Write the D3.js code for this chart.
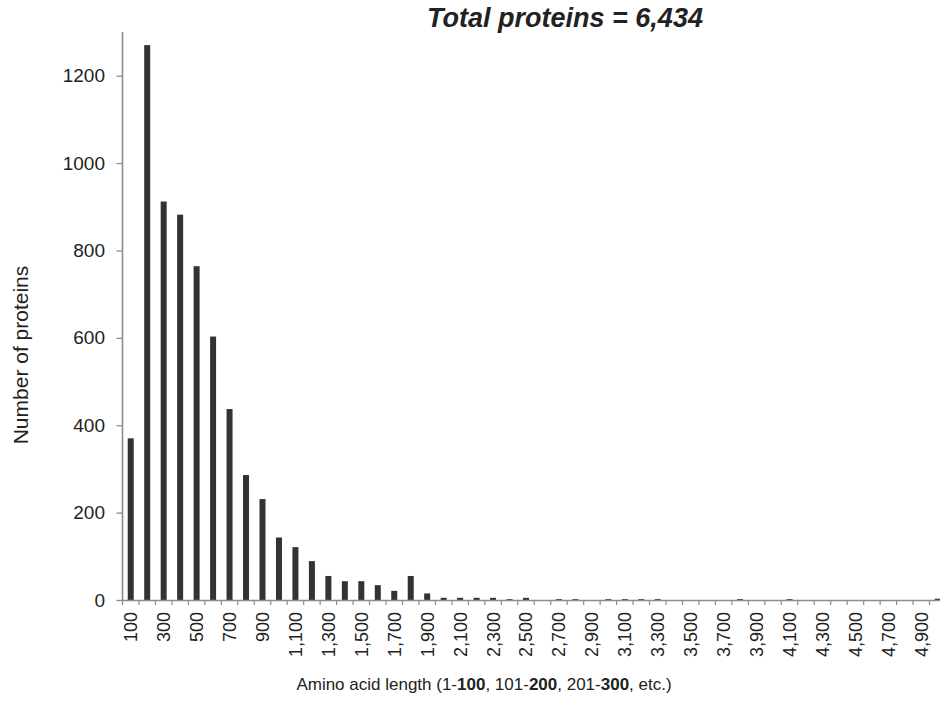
<!DOCTYPE html>
<html>
<head>
<meta charset="utf-8">
<script src="https://cdn.jsdelivr.net/npm/d3@7"></script>
<style>
  html, body { margin: 0; padding: 0; background: #fff; overflow: hidden; }
  svg { display: block; font-family: "Liberation Sans", Arial, sans-serif; }
</style>
</head>
<body>
<svg id="chart" width="940" height="719"></svg>
<script>
// Length bins: upper bound of each 100-residue bin
const bins = [100, 200, 300, 400, 500, 600, 700, 800, 900, 1000,
  1100, 1200, 1300, 1400, 1500, 1600, 1700, 1800, 1900, 2000,
  2100, 2200, 2300, 2400, 2500, 2600, 2700, 2800, 2900, 3000,
  3100, 3200, 3300, 3400, 3500, 3600, 3700, 3800, 3900, 4000,
  4100, 4200, 4300, 4400, 4500, 4600, 4700, 4800, 4900, 5000];

// Protein counts per bin
const counts = [370, 1270, 912, 882, 764, 603, 437, 286, 231, 143,
  121, 89, 55, 43, 43, 34, 21, 55, 15, 5,
  5, 5, 5, 2, 5, 0, 2, 2, 0, 2,
  2, 2, 2, 0, 0, 0, 0, 2, 0, 0,
  2, 0, 0, 0, 0, 0, 0, 0, 0, 3];

const yTicks = [0, 200, 400, 600, 800, 1000, 1200];
const totalLabel = "Total proteins = 6,434";

const svg = d3.select("#chart");
const plotLeft = 122.5, plotRight = 946, plotTop = 32, plotBottom = 600;

const x = d3.scaleBand().domain(bins).range([plotLeft, plotRight]).paddingInner(0).paddingOuter(0);
const y = d3.scaleLinear().domain([0, 1300]).range([plotBottom, plotTop]);

const axisColor = "#8c8c8c";
const textColor = "#222";
const barW = 6;

// Bars
svg.append("g").selectAll("rect")
  .data(bins.map((b, i) => ({ b, v: counts[i] })))
  .join("rect")
  .attr("x", d => x(d.b) + x.bandwidth() / 2 - barW / 2)
  .attr("y", d => y(d.v))
  .attr("width", barW)
  .attr("height", d => plotBottom - y(d.v))
  .attr("fill", "#333333");

// Y axis
const yAxis = svg.append("g")
  .attr("transform", `translate(${plotLeft},0)`)
  .call(d3.axisLeft(y).tickValues(yTicks).tickSize(6).tickSizeOuter(0).tickPadding(11.5).tickFormat(d3.format("d")));
yAxis.select(".domain").remove();
yAxis.selectAll(".tick line").attr("stroke", axisColor).attr("stroke-width", 1.3);
yAxis.selectAll(".tick text").attr("fill", textColor).style("font-size", "19px");
svg.append("line")
  .attr("x1", plotLeft).attr("x2", plotLeft).attr("y1", plotTop).attr("y2", plotBottom)
  .attr("stroke", axisColor).attr("stroke-width", 1.6);

// X axis: tick marks sit on bin boundaries, labels on every other bin
const xg = svg.append("g");
xg.append("line")
  .attr("x1", plotLeft).attr("x2", plotRight).attr("y1", plotBottom + 0.5).attr("y2", plotBottom + 0.5)
  .attr("stroke", axisColor).attr("stroke-width", 1.6);
xg.selectAll("line.tk")
  .data(bins)
  .join("line")
  .attr("class", "tk")
  .attr("x1", d => x(d)).attr("x2", d => x(d))
  .attr("y1", plotBottom).attr("y2", plotBottom + 5)
  .attr("stroke", axisColor).attr("stroke-width", 1.2);

const fmt = d3.format(",");
const xFont = 18;
xg.selectAll("text")
  .data(bins.filter((d, i) => i % 2 === 0))
  .join("text")
  .attr("transform", d => `translate(${x(d) + x.bandwidth() / 2 + xFont * 0.36},${plotBottom + 12}) rotate(-90)`)
  .attr("text-anchor", "end")
  .attr("fill", textColor)
  .style("font-size", xFont + "px")
  .text(d => fmt(d));

// Axis titles
svg.append("text")
  .attr("transform", "translate(28,355) rotate(-90)")
  .attr("text-anchor", "middle")
  .attr("fill", textColor)
  .style("font-size", "21px")
  .text("Number of proteins");

const xt = svg.append("text")
  .attr("x", 484).attr("y", 690)
  .attr("text-anchor", "middle")
  .attr("fill", textColor)
  .style("font-size", "17px");
[["Amino acid length (1-", false], ["100", true], [", 101-", false], ["200", true],
 [", 201-", false], ["300", true], [", etc.)", false]].forEach(([t, b]) => {
  xt.append("tspan").attr("font-weight", b ? "bold" : "normal").text(t);
});

// Total annotation
svg.append("text")
  .attr("x", 565).attr("y", 27)
  .attr("text-anchor", "middle")
  .attr("fill", textColor)
  .style("font-size", "27px")
  .style("font-weight", "bold")
  .style("font-style", "italic")
  .text(totalLabel);
</script>
</body>
</html>
